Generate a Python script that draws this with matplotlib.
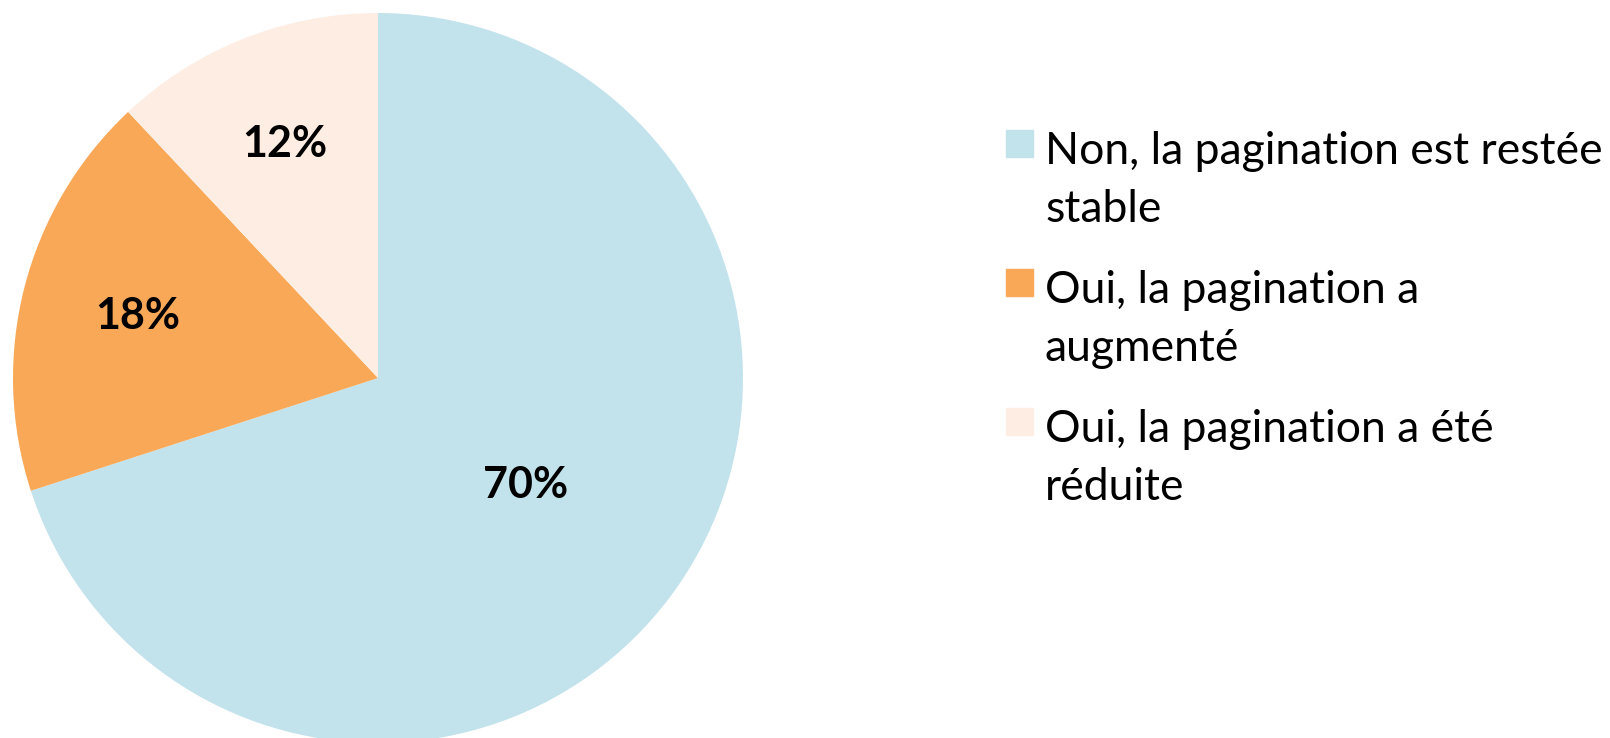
import matplotlib.pyplot as plt
from matplotlib.patches import Rectangle

plt.rcParams['font.family'] = ['Lato', 'DejaVu Sans']

categories = ['Non, la pagination est restée\nstable',
              'Oui, la pagination a\naugmenté',
              'Oui, la pagination a été\nréduite']
values = [70, 18, 12]
colors = ['#C3E3EC', '#F9A857', '#FDEDE2']
label_dist = [0.5, 0.68, 0.69]

fig = plt.figure(figsize=(16.1, 7.38), dpi=100)
ax = fig.add_axes([13 / 1610, -5 / 738, 730 / 1610, 730 / 738])

wedges, texts, autotexts = ax.pie(values, colors=colors, startangle=90,
                                  counterclock=False, radius=1,
                                  autopct='%1.0f%%', pctdistance=1.0,
                                  wedgeprops=dict(linewidth=0),
                                  textprops=dict(fontsize=31, fontweight='bold', color='black'))
# move labels in like the original (small slices further out)
for t, d in zip(autotexts, label_dist):
    x, y = t.get_position()
    t.set_position((x * d, y * d))
ax.set_xlim(-1, 1)
ax.set_ylim(-1, 1)
ax.set_aspect('equal')

# legend, drawn by hand so the box sits on the first line
for i, (lab, col) in enumerate(zip(categories, colors)):
    top = 130 + i * 139
    fig.patches.append(Rectangle((1006 / 1610, 1 - (top + 27) / 738), 27 / 1610, 27 / 738,
                                 transform=fig.transFigure, color=col))
    fig.text(1045 / 1610, 1 - (top + 1) / 738, lab, fontsize=32, va='top', ha='left',
             linespacing=1.52)

fig.savefig('out.png', dpi=100)
